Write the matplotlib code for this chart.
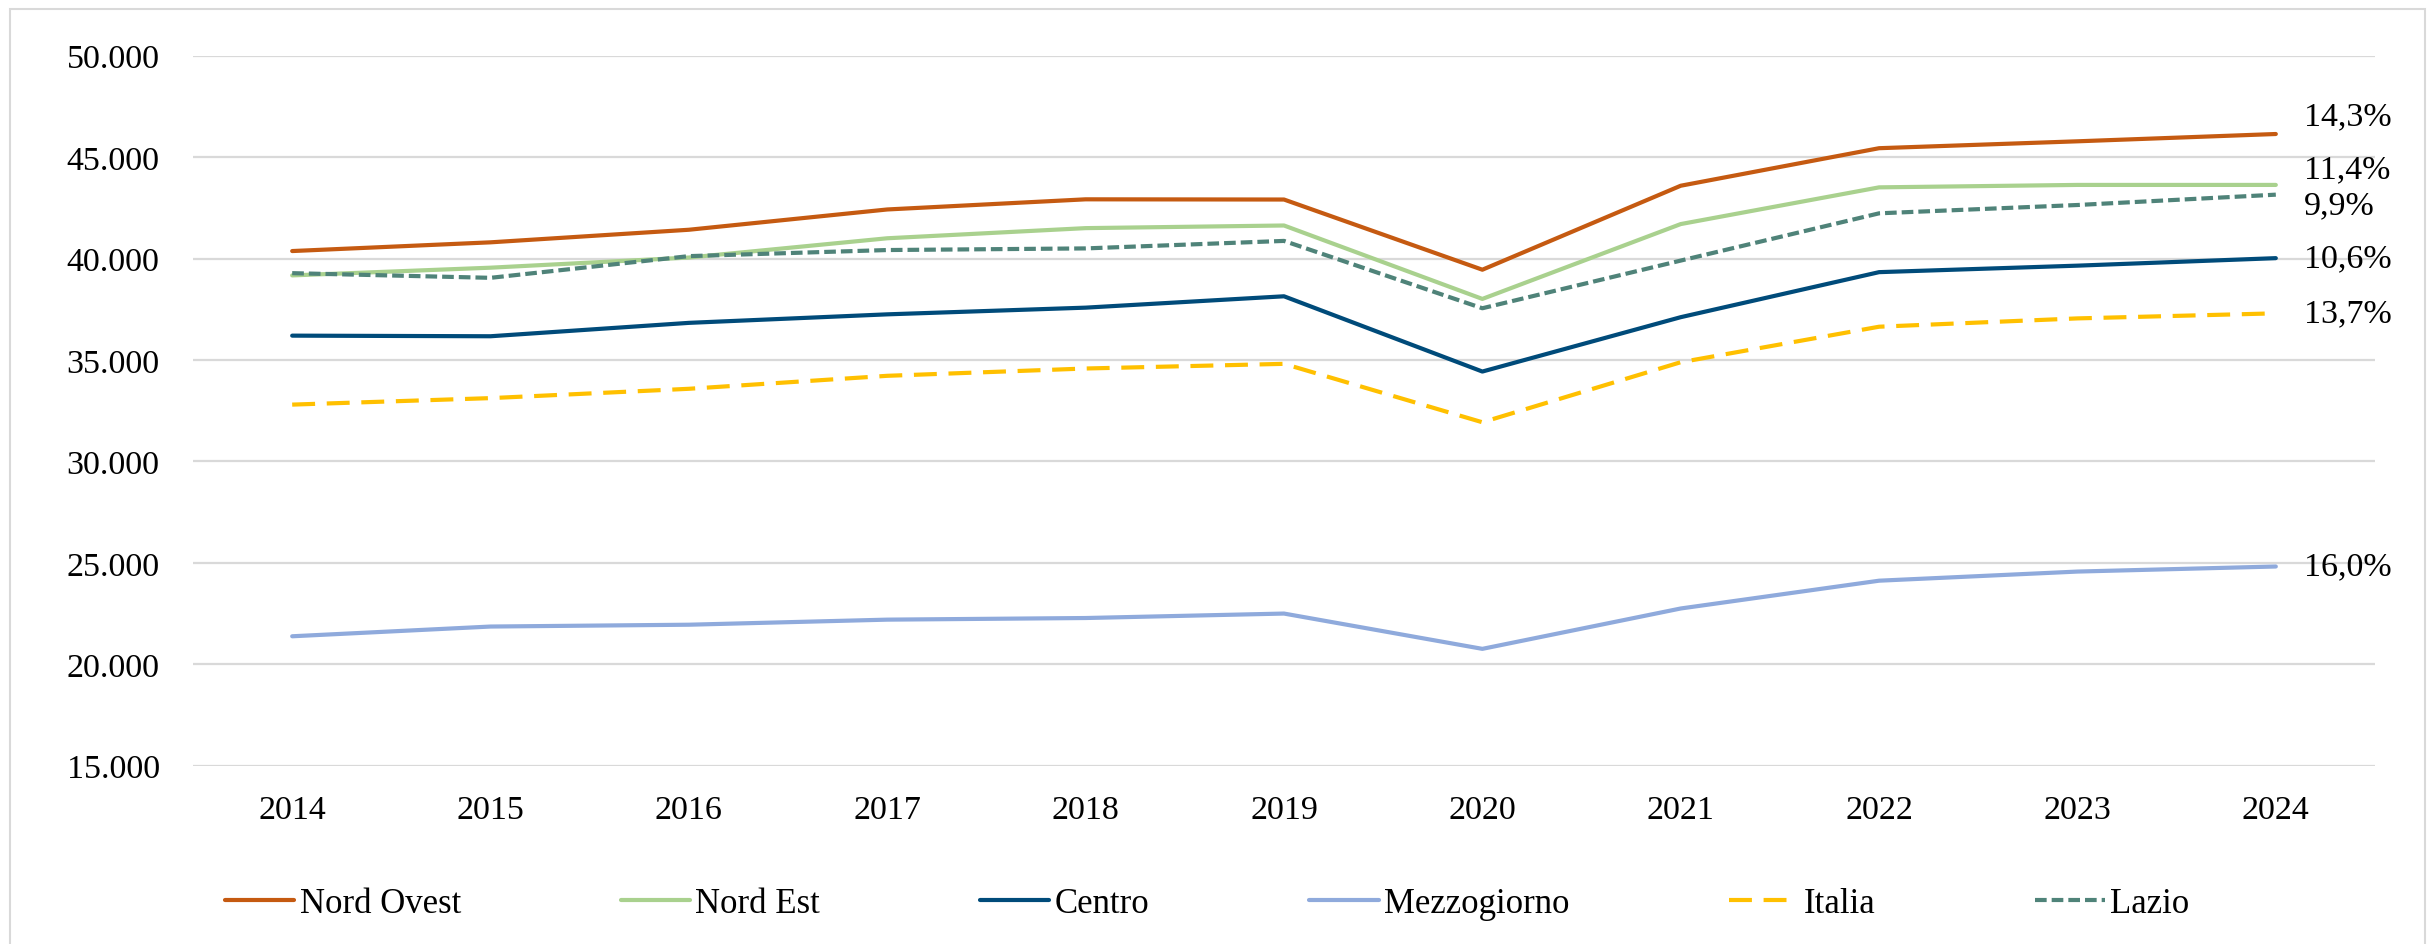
import matplotlib
matplotlib.use("Agg")
import matplotlib.pyplot as plt
from matplotlib.patches import Rectangle
from matplotlib.ticker import FuncFormatter

plt.rcParams["font.family"] = ["Liberation Serif", "DejaVu Serif"]

anni = ["2014", "2015", "2016", "2017", "2018", "2019", "2020", "2021", "2022", "2023", "2024"]

nord_ovest = [40370, 40800, 41420, 42420, 42920, 42910, 39450, 43590, 45440, 45780, 46140]
nord_est = [39170, 39550, 40050, 41000, 41500, 41630, 38010, 41700, 43510, 43630, 43630]
centro = [36200, 36170, 36830, 37250, 37580, 38140, 34430, 37110, 39330, 39650, 40020]
mezzogiorno = [21380, 21860, 21950, 22200, 22280, 22500, 20760, 22750, 24120, 24570, 24820]
italia = [32800, 33120, 33580, 34220, 34580, 34810, 31930, 34890, 36640, 37050, 37300]
lazio = [39280, 39050, 40120, 40420, 40500, 40870, 37550, 39900, 42230, 42640, 43150]

etichette = ["14,3%", "11,4%", "10,6%", "16,0%", "13,7%", "9,9%"]

serie = [
    ("Nord Ovest", nord_ovest, "#C55A11", "-", -18),
    ("Nord Est", nord_est, "#A9D18E", "-", -16),
    ("Centro", centro, "#004B7A", "-", 0),
    ("Mezzogiorno", mezzogiorno, "#8FAADC", "-", 0),
    ("Italia", italia, "#FFC000", (0, (5.5, 2.8)), 0),
    ("Lazio", lazio, "#4F8379", (0, (2.8, 1.2)), 10),
]

fig = plt.figure(figsize=(24.35, 9.45), dpi=100)
ax = fig.add_axes([193 / 2435, 1 - 766.7 / 945, (2375 - 193) / 2435, (766.7 - 56.7) / 945])

x = list(range(len(anni)))
for (nome, valori, colore, stile, dy), lab in zip(serie, etichette):
    ax.plot(x, valori, color=colore, linestyle=stile, linewidth=3.0, label=nome,
            solid_capstyle="round", dash_capstyle="butt")
    ax.annotate(lab, xy=(x[-1], valori[-1]), xytext=(20, -dy * 0.72),
                textcoords="offset points", ha="left", va="center", fontsize=24.5)

ax.set_xlim(-0.5, len(anni) - 0.5)
ax.set_ylim(15000, 50000)
ax.set_yticks(range(15000, 50001, 5000))
ax.yaxis.set_major_formatter(FuncFormatter(lambda v, p: f"{int(v):,}".replace(",", ".")))
ax.set_xticks(x)
ax.set_xticklabels(anni)
ax.tick_params(axis="both", length=0, labelsize=24.5)
ax.tick_params(axis="y", pad=24)
ax.tick_params(axis="x", pad=21)
ax.grid(axis="y", color="#D9D9D9", linewidth=1.6)
ax.set_axisbelow(True)
for s in ax.spines.values():
    s.set_visible(False)

fig.legend(loc="center", bbox_to_anchor=(1207 / 2435, 1 - 905 / 945), ncol=6,
           frameon=False, fontsize=25, handlelength=2.0, handletextpad=0.15,
           columnspacing=4.6)

# bordo dell'area grafico
fig.patches.append(Rectangle((10 / 2435, -0.02), (2425 - 10) / 2435, 1.02 - 10 / 945,
                             transform=fig.transFigure, fill=False,
                             edgecolor="#D9D9D9", linewidth=1.5))

fig.savefig("out.png", dpi=100)
